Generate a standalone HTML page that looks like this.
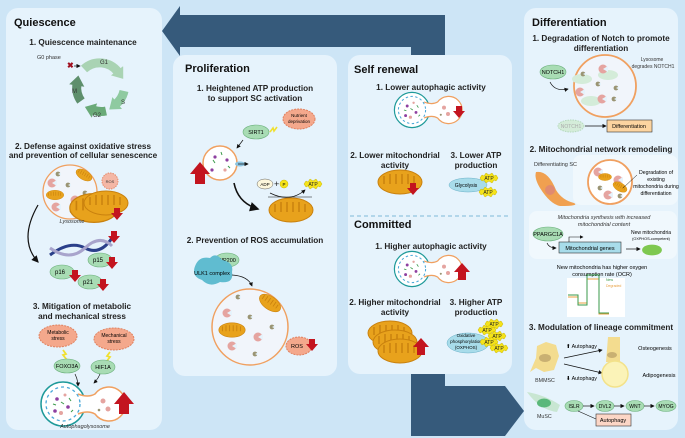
<!DOCTYPE html>
<html><head><meta charset="utf-8"><style>
html,body{margin:0;padding:0;background:#cde5f6;}
svg{display:block;font-family:"Liberation Sans",sans-serif;}
.t{font-weight:bold;font-size:11px;fill:#111}
.h{font-weight:bold;font-size:8.2px;fill:#222}
.s{font-size:5.5px;fill:#333}
.i{font-style:italic;font-size:5.5px;fill:#333}
</style></head><body>
<svg width="685" height="438" viewBox="0 0 685 438" xmlns="http://www.w3.org/2000/svg">
<defs>
<marker id="ah" markerWidth="6" markerHeight="6" refX="5" refY="3" orient="auto"><path d="M0,0 L6,3 L0,6z" fill="#111"/></marker>
<marker id="g1" viewBox="0 0 2 3" markerWidth="1.4" markerHeight="1.7" refX="0.3" refY="1.5" orient="auto"><path d="M0,0 L2,1.5 L0,3z" fill="#a9d3b3"/></marker>
<marker id="g2" viewBox="0 0 2 3" markerWidth="1.4" markerHeight="1.7" refX="0.3" refY="1.5" orient="auto"><path d="M0,0 L2,1.5 L0,3z" fill="#8fcaa0"/></marker>
<marker id="g3" viewBox="0 0 2 3" markerWidth="1.4" markerHeight="1.7" refX="0.3" refY="1.5" orient="auto"><path d="M0,0 L2,1.5 L0,3z" fill="#6aaa78"/></marker>
<marker id="g4" viewBox="0 0 2 3" markerWidth="1.4" markerHeight="1.7" refX="0.3" refY="1.5" orient="auto"><path d="M0,0 L2,1.5 L0,3z" fill="#5e8f6c"/></marker>
<g id="mito"><ellipse cx="0" cy="0" rx="22" ry="12" fill="#e8a21c" stroke="#c9810e" stroke-width="1"/><path d="M-16,-6 v8 M-10,-8 v10 M-4,-8 v10 M2,-8 v10 M8,-8 v10 M14,-6 v8" stroke="#c9810e" stroke-width="1.5"/></g>
<g id="dn"><path d="M-3,-9 h6 v5 h3 l-6,7 l-6,-7 h3z" fill="#c3141f"/></g>
<g id="up"><path d="M-4,9 h8 v-8 h4 l-8,-9 l-8,9 h4z" fill="#c3141f"/></g>
<g id="bigup"><path d="M-5,12 h10 v-10 h5 l-10,-12 l-10,12 h5z" fill="#c3141f"/></g>
<g id="pac"><circle r="4.5" fill="#e5a4a0"/><path d="M0,0 L5,-3 L5,3z" fill="#e6f3fc"/></g>
<g id="dot"><circle r="2.4" fill="#9a9473"/><path d="M0,0 L3,-1.5 L3,1.5z" fill="#e6f3fc"/></g>
<g id="atp"><path d="M-9,0 l2,-3 l2,1 l2,-3 l3,2 l3,-2 l2,3 l2,-1 l2,3 l-2,3 l-2,-1 l-2,3 l-3,-2 l-3,2 l-2,-3 l-2,1z" fill="#f5e31a" stroke="#c8b400" stroke-width="0.5"/><text x="0" y="2" font-size="5" text-anchor="middle" fill="#222">ATP</text></g>
<g id="auto"><circle cx="0" cy="0" r="22" fill="#fff" stroke="#1f9a9a" stroke-width="1.5"/><path d="M15,-10 Q25,-6 32,-10 A17 17 0 1 1 32,10 Q25,6 15,10" fill="#fff" stroke="#f0a060" stroke-width="1.5"/><circle cx="0" cy="0" r="17" fill="none" stroke="#4aa8d8" stroke-width="1.3" stroke-dasharray="3 3"/><circle cx="-6" cy="-5" r="1.8" fill="#8e3fa0"/><circle cx="5" cy="3" r="1.8" fill="#8e3fa0"/><circle cx="-8" cy="7" r="1.8" fill="#8e3fa0"/><circle cx="2" cy="-9" r="1.5" fill="#e5a4a0"/><circle cx="-2" cy="9" r="2" fill="#e5a4a0"/><path d="M-2,-2 l3,2 M6,-6 l2,3 M-10,0 l3,1 M8,8 l2,-2" stroke="#3a9a4a" stroke-width="1"/><circle cx="40" cy="-3" r="2.5" fill="#e5a4a0"/><circle cx="45" cy="5" r="2.5" fill="#e5a4a0"/><circle cx="36" cy="6" r="1.3" fill="#9a9473"/></g>
</defs>

<polygon points="162,31 180,6 180,15 445,15 445,62 411,62 411,47 180,47 180,56" fill="#365a7b"/>
<polygon points="411,370 445,370 445,386 505,386 524,411 505,436 411,436" fill="#365a7b"/>

<rect x="6" y="8" width="156" height="422" rx="12" fill="#e6f3fc"/>
<rect x="173" y="55" width="164" height="321" rx="12" fill="#e6f3fc"/>
<rect x="348" y="55" width="164" height="319" rx="12" fill="#e6f3fc"/>
<rect x="524" y="8" width="154" height="422" rx="12" fill="#e6f3fc"/>
<line x1="350" y1="216" x2="510" y2="216" stroke="#7fb8d8" stroke-dasharray="4 3"/>

<!-- Quiescence -->
<text x="14" y="26" class="t">Quiescence</text>
<text x="83" y="45" class="h" text-anchor="middle">1. Quiescence maintenance</text>
<text x="37" y="59" class="s" font-size="6">G0 phase</text>
<text x="67" y="68" font-size="8" fill="#a01020" font-weight="bold">✖</text>
<line x1="74" y1="66" x2="80" y2="66" stroke="#111" stroke-width="0.7" marker-end="url(#ah)"/>
<path d="M84,69 A23 23 0 0 1 118,72" stroke="#a9d3b3" stroke-width="9" fill="none" marker-end="url(#g1)"/>
<path d="M124,91 A23 23 0 0 1 116,104" stroke="#8fcaa0" stroke-width="9" fill="none" marker-end="url(#g2)"/>
<path d="M106,111 A23 23 0 0 1 93,110" stroke="#6aaa78" stroke-width="9" fill="none" marker-end="url(#g3)"/>
<path d="M81,101 A23 23 0 0 1 77,84" stroke="#5e8f6c" stroke-width="9" fill="none" marker-end="url(#g4)"/>
<text x="104" y="64" font-size="6" text-anchor="middle" fill="#333">G1</text>
<text x="121" y="104" font-size="6" fill="#333">S</text>
<text x="93" y="117" font-size="6" fill="#333">G2</text>
<text x="72" y="93" font-size="6" fill="#333">M</text>

<text x="83" y="149" class="h" text-anchor="middle">2. Defense against oxidative stress</text>
<text x="83" y="158" class="h" text-anchor="middle">and prevention of cellular senescence</text>
<circle cx="70" cy="192" r="27" fill="#f1f5fb" stroke="#f0a060" stroke-width="1.3"/>
<use href="#pac" x="52" y="183"/><use href="#pac" x="56" y="207"/><use href="#pac" x="75" y="200"/>
<use href="#dot" x="58" y="174"/><use href="#dot" x="68" y="185"/><use href="#dot" x="85" y="193"/><use href="#dot" x="72" y="211"/>
<g transform="translate(84,175) rotate(30) scale(0.4)"><use href="#mito"/></g>
<g transform="translate(55,195) scale(0.4)"><use href="#mito"/></g>
<circle cx="110" cy="181" r="8" fill="#f4b7a5" stroke="#e58a6a" stroke-dasharray="1.5 1"/>
<text x="110" y="183" font-size="4" text-anchor="middle" fill="#333">ROS</text>
<g transform="translate(94,208) scale(1.1,1.2)"><use href="#mito"/></g>
<g transform="translate(106,203) scale(1)"><use href="#mito"/></g>
<use href="#dn" x="117" y="217"/>
<text x="72" y="223" class="i" text-anchor="middle" font-size="5">Lysosome</text>
<path d="M38,205 Q18,240 38,262" stroke="#111" stroke-width="1.2" fill="none" marker-end="url(#ah)"/>
<path d="M50,255 Q70,240 85,248 Q100,256 112,238" stroke="#2a3f8a" stroke-width="3" fill="none"/>
<path d="M50,248 Q70,262 85,248 Q100,234 112,246" stroke="#a8a4cc" stroke-width="3" fill="none"/>
<use href="#dn" x="114" y="240"/>
<ellipse cx="100" cy="260" rx="12" ry="7" fill="#a8dcb4" stroke="#6bb07c" stroke-width="0.6"/><text x="98" y="262" font-size="6" text-anchor="middle">p15</text>
<ellipse cx="62" cy="272" rx="12" ry="7" fill="#a8dcb4" stroke="#6bb07c" stroke-width="0.6"/><text x="60" y="274" font-size="6" text-anchor="middle">p16</text>
<ellipse cx="90" cy="282" rx="12" ry="7" fill="#a8dcb4" stroke="#6bb07c" stroke-width="0.6"/><text x="88" y="284" font-size="6" text-anchor="middle">p21</text>
<use href="#dn" x="112" y="266"/><use href="#dn" x="75" y="279"/><use href="#dn" x="103" y="288"/>

<text x="82" y="309" class="h" text-anchor="middle">3. Mitigation of metabolic</text>
<text x="82" y="319" class="h" text-anchor="middle">and mechanical stress</text>
<ellipse cx="58" cy="336" rx="19" ry="11" fill="#f4a88c" stroke="#e0805e" stroke-dasharray="2 1"/>
<text x="58" y="334" font-size="5" text-anchor="middle">Metabolic</text><text x="58" y="340" font-size="5" text-anchor="middle">stress</text>
<ellipse cx="114" cy="339" rx="20" ry="11" fill="#f4a88c" stroke="#e0805e" stroke-dasharray="2 1"/>
<text x="114" y="337" font-size="5" text-anchor="middle">Mechanical</text><text x="114" y="343" font-size="5" text-anchor="middle">stress</text>
<path d="M63,350 l3,4 l-3,1 l4,5" stroke="#f0e030" stroke-width="1.8" fill="none"/>
<path d="M110,352 l-3,4 l3,1 l-4,5" stroke="#f0e030" stroke-width="1.8" fill="none"/>
<ellipse cx="67" cy="366" rx="13" ry="7" fill="#a8dcb4" stroke="#6bb07c" stroke-width="0.6"/><text x="67" y="368" font-size="5.5" text-anchor="middle">FOXO3A</text>
<ellipse cx="103" cy="367" rx="12" ry="7" fill="#a8dcb4" stroke="#6bb07c" stroke-width="0.6"/><text x="103" y="369" font-size="5.5" text-anchor="middle">HIF1A</text>
<path d="M75,374 q3,6 3,12" stroke="#111" stroke-width="0.7" fill="none" marker-end="url(#ah)"/>
<path d="M100,374 q-2,5 -6,9" stroke="#111" stroke-width="0.7" fill="none" marker-end="url(#ah)"/>
<use href="#auto" x="63" y="404"/>
<use href="#bigup" x="124" y="402"/>
<text x="85" y="428" class="i" text-anchor="middle" font-size="4.5">Autophagolysosome</text>

<!-- Proliferation -->
<text x="185" y="72" class="t">Proliferation</text>
<text x="255" y="91" class="h" text-anchor="middle">1. Heightened ATP production</text>
<text x="255" y="101" class="h" text-anchor="middle">to support SC activation</text>
<ellipse cx="299" cy="119" rx="16" ry="10" fill="#f4a88c" stroke="#e0805e" stroke-dasharray="2 1"/>
<text x="299" y="117" font-size="4.5" text-anchor="middle">Nutrient</text><text x="299" y="123" font-size="4.5" text-anchor="middle">deprivation</text>
<ellipse cx="256" cy="132" rx="13" ry="7" fill="#a8dcb4" stroke="#6bb07c" stroke-width="0.6"/><text x="256" y="134" font-size="5.5" text-anchor="middle">SIRT1</text>
<path d="M270,132 l3,-4 l1,3 l3,-4" stroke="#f0e030" stroke-width="1.6" fill="none"/>
<line x1="243" y1="140" x2="237" y2="148" stroke="#111" stroke-width="0.7" marker-end="url(#ah)"/>
<circle cx="220" cy="163" r="17" fill="#fff" stroke="#f0a060" stroke-width="1.5"/>
<circle cx="215" cy="157" r="1.6" fill="#8e3fa0"/><circle cx="227" cy="160" r="1.6" fill="#8e3fa0"/><circle cx="212" cy="170" r="1.6" fill="#8e3fa0"/><circle cx="225" cy="170" r="1.6" fill="#e5a4a0"/>
<path d="M213,160 l2,3 M221,152 l1,3 M228,166 l2,2" stroke="#3a9a4a" stroke-width="1"/>
<ellipse cx="240" cy="164" rx="5" ry="2.5" fill="#8cc4e0"/>
<line x1="238" y1="164" x2="248" y2="164" stroke="#111" stroke-width="0.7" marker-end="url(#ah)"/>
<use href="#bigup" x="200" y="172"/>
<path d="M234,183 Q238,203 258,209" stroke="#111" stroke-width="1.6" fill="none" marker-end="url(#ah)"/>
<ellipse cx="265" cy="184" rx="8" ry="5" fill="#fdf7dc" stroke="#666" stroke-width="0.5"/><text x="265" y="186" font-size="4.5" text-anchor="middle">ADP</text>
<text x="274" y="187" font-size="9" fill="#222">+</text>
<circle cx="284" cy="184" r="4" fill="#f5e31a" stroke="#c8b400" stroke-width="0.5"/><text x="284" y="186" font-size="4.5" text-anchor="middle">P</text>
<use href="#atp" x="313" y="184"/>
<path d="M270,193 Q290,203 305,190" stroke="#111" stroke-width="0.7" fill="none" marker-end="url(#ah)"/>
<line x1="268" y1="197" x2="312" y2="197" stroke="#111" stroke-width="0.6"/>
<use href="#mito" x="291" y="210"/>

<text x="255" y="243" class="h" text-anchor="middle">2. Prevention of ROS accumulation</text>
<ellipse cx="227" cy="260" rx="12" ry="7" fill="#a8dcb4" stroke="#6bb07c" stroke-width="0.6"/><text x="227" y="262" font-size="5.5" text-anchor="middle">FIP200</text>
<path d="M196,264 q4,-8 14,-6 q6,-6 12,2 q12,2 10,12 q2,12 -12,10 q-10,6 -18,-2 q-12,-4 -6,-16z" fill="#60bcd0"/>
<text x="212" y="275" font-size="5.5" text-anchor="middle">ULK1 complex</text>
<path d="M232,275 Q248,276 252,286" stroke="#111" stroke-width="0.7" fill="none" marker-end="url(#ah)"/>
<circle cx="250" cy="327" r="38" fill="#f1f5fb" stroke="#f0a060" stroke-width="1.5"/>
<use href="#pac" x="227" y="313"/><use href="#pac" x="258" y="337"/><use href="#pac" x="232" y="346"/>
<use href="#dot" x="238" y="297"/><use href="#dot" x="250" y="317"/><use href="#dot" x="272" y="327"/><use href="#dot" x="255" y="354"/>
<g transform="translate(270,303) rotate(35) scale(0.55)"><use href="#mito"/></g>
<g transform="translate(232,330) scale(0.6)"><use href="#mito"/></g>
<ellipse cx="299" cy="346" rx="13" ry="9" fill="#f4a88c" stroke="#e0805e" stroke-dasharray="2 1"/>
<text x="297" y="348" font-size="5.5" text-anchor="middle">ROS</text>
<use href="#dn" x="312" y="348"/>

<!-- Self renewal -->
<text x="354" y="73" class="t">Self renewal</text>
<text x="431" y="90" class="h" text-anchor="middle">1. Lower autophagic activity</text>
<g transform="translate(412,110) scale(0.8)"><use href="#auto"/></g>
<use href="#dn" x="459" y="115"/>
<text x="395" y="158" class="h" text-anchor="middle">2. Lower mitochondrial</text>
<text x="395" y="168" class="h" text-anchor="middle">activity</text>
<text x="476" y="158" class="h" text-anchor="middle">3. Lower ATP</text>
<text x="476" y="168" class="h" text-anchor="middle">production</text>
<use href="#mito" x="400" y="182"/>
<use href="#dn" x="413" y="192"/>
<ellipse cx="468" cy="185" rx="19" ry="7" fill="#a8dcea" stroke="#6ab0c8" stroke-width="0.5"/><text x="466" y="187" font-size="5" text-anchor="middle">Glycolysis</text>
<use href="#atp" x="489" y="178"/><use href="#atp" x="488" y="192"/>

<!-- Committed -->
<text x="354" y="228" class="t">Committed</text>
<text x="431" y="249" class="h" text-anchor="middle">1. Higher autophagic activity</text>
<g transform="translate(412,269) scale(0.8)"><use href="#auto"/></g>
<use href="#up" x="462" y="271"/>
<text x="395" y="305" class="h" text-anchor="middle">2. Higher mitochondrial</text>
<text x="395" y="315" class="h" text-anchor="middle">activity</text>
<text x="476" y="305" class="h" text-anchor="middle">3. Higher ATP</text>
<text x="476" y="315" class="h" text-anchor="middle">production</text>
<use href="#mito" x="390" y="333"/><use href="#mito" x="395" y="342"/><use href="#mito" x="400" y="351"/>
<use href="#up" x="421" y="346"/>
<ellipse cx="468" cy="343" rx="21" ry="10" fill="#a8dcea" stroke="#6ab0c8" stroke-width="0.5"/>
<text x="466" y="337" font-size="4.5" text-anchor="middle">Oxidative</text><text x="466" y="343" font-size="4.5" text-anchor="middle">phosphorylation</text><text x="466" y="349" font-size="4.5" text-anchor="middle">(OXPHOS)</text>
<use href="#atp" x="494" y="324"/><use href="#atp" x="487" y="330"/><use href="#atp" x="497" y="336"/><use href="#atp" x="489" y="342"/><use href="#atp" x="499" y="348"/>

<!-- Differentiation -->
<text x="532" y="26" class="t">Differentiation</text>
<text x="601" y="41" class="h" text-anchor="middle">1. Degradation of Notch to promote</text>
<text x="601" y="51" class="h" text-anchor="middle">differentiation</text>
<text x="652" y="61" font-size="5" text-anchor="middle" fill="#333">Lysosome</text>
<text x="653" y="68" font-size="5" text-anchor="middle" fill="#333">degrades NOTCH1</text>
<ellipse cx="553" cy="72" rx="13" ry="7" fill="#a8dcb4" stroke="#6bb07c" stroke-width="0.6"/><text x="553" y="74" font-size="5.5" text-anchor="middle">NOTCH1</text>
<path d="M550,82 Q555,92 568,89" stroke="#111" stroke-width="0.7" fill="none" marker-end="url(#ah)"/>
<circle cx="605" cy="86" r="31" fill="#f1f5fb" stroke="#f0a060" stroke-width="1.8"/>
<ellipse cx="582" cy="79" rx="10" ry="5" fill="#d4ecd9"/><ellipse cx="608" cy="75" rx="10" ry="5" fill="#d4ecd9"/><ellipse cx="591" cy="101" rx="10" ry="5" fill="#d4ecd9"/>
<use href="#pac" x="603" y="69"/><use href="#pac" x="580" y="92"/><use href="#pac" x="602" y="99"/>
<use href="#dot" x="583" y="74"/><use href="#dot" x="598" y="84"/><use href="#dot" x="616" y="88"/><use href="#dot" x="614" y="99"/>
<ellipse cx="571" cy="126" rx="13" ry="6" fill="#d4ecd9" stroke="#b5d9bd" stroke-dasharray="1.5 1"/><text x="571" y="128" font-size="5" text-anchor="middle" fill="#aaa">NOTCH1</text>
<line x1="585" y1="126" x2="606" y2="126" stroke="#111" stroke-width="0.7" marker-end="url(#ah)"/>
<rect x="607" y="120" width="45" height="12" fill="#fcd4a0" stroke="#333" stroke-width="0.6"/><text x="629" y="128" font-size="5.5" text-anchor="middle">Differentiation</text>
<text x="601" y="152" class="h" text-anchor="middle">2. Mitochondrial network remodeling</text>
<rect x="573" y="155" width="105" height="50" rx="8" fill="#f0f8fd"/>
<text x="534" y="166" font-size="5.5" fill="#333">Differentiating SC</text>
<path d="M536,172 Q548,170 556,190 Q562,200 574,203 Q580,206 560,206 Q550,204 540,188 Q534,178 536,172z" fill="#f0a050"/>
<circle cx="550" cy="190" r="5" fill="#e08a70"/>
<circle cx="610" cy="182" r="22" fill="#fff" stroke="#f0a060" stroke-width="1.8"/>
<use href="#pac" x="598" y="172"/><use href="#pac" x="618" y="180"/><use href="#pac" x="608" y="195"/>
<use href="#dot" x="600" y="188"/><use href="#dot" x="620" y="196"/>
<g transform="translate(605,177) scale(0.3)"><use href="#mito"/></g><g transform="translate(620,187) rotate(30) scale(0.35)"><use href="#mito"/></g>
<line x1="623" y1="188" x2="637" y2="175" stroke="#111" stroke-width="0.5"/>
<text x="656" y="174" font-size="5.2" text-anchor="middle">Degradation of</text>
<text x="656" y="181" font-size="5.2" text-anchor="middle">existing</text>
<text x="656" y="188" font-size="5.2" text-anchor="middle">mitochondria during</text>
<text x="656" y="195" font-size="5.2" text-anchor="middle">differentiation</text>
<rect x="529" y="211" width="148" height="48" rx="8" fill="#f0f8fd"/>
<text x="604" y="219" class="i" text-anchor="middle">Mitochondria synthesis with increased</text>
<text x="604" y="226" class="i" text-anchor="middle">mitochondrial content</text>
<ellipse cx="548" cy="234" rx="15" ry="7" fill="#a8dcb4" stroke="#6bb07c" stroke-width="0.6"/><text x="548" y="236" font-size="5.5" text-anchor="middle">PPARGC1A</text>
<path d="M547,243 q2,5 9,5" stroke="#111" stroke-width="0.7" fill="none" marker-end="url(#ah)"/>
<rect x="559" y="242" width="62" height="11" fill="#a8dcea" stroke="#333" stroke-width="0.6"/><text x="590" y="250" font-size="5.5" text-anchor="middle">Mitochondrial genes</text>
<path d="M569,242 v-5 h14" stroke="#111" stroke-width="0.6" fill="none" marker-end="url(#ah)"/>
<line x1="626" y1="249" x2="640" y2="249" stroke="#111" stroke-width="0.7" marker-end="url(#ah)"/>
<text x="651" y="234" font-size="5" text-anchor="middle">New mitochondria</text>
<text x="651" y="240" font-size="3.8" text-anchor="middle">(OXPHOS-competent)</text>
<g transform="translate(652,250) scale(0.45)"><ellipse rx="22" ry="12" fill="#7ec850"/></g>
<text x="602" y="269" font-size="5.5" text-anchor="middle">New mitochondria has higher oxygen</text>
<text x="602" y="276" font-size="5.5" text-anchor="middle">consumption rate (OCR)</text>
<rect x="567" y="278" width="58" height="39" fill="#fff"/>
<path d="M568,297 h10 v6 h9 v-24 h12 v35 h10" stroke="#e8a040" stroke-width="1" fill="none"/>
<path d="M568,295 h10 v10 h9 v-30 h12 v38 h10" stroke="#3a9a4a" stroke-width="1" fill="none"/>
<text x="606" y="281" font-size="3.5" fill="#3a9a4a">New</text><text x="606" y="287" font-size="3.5" fill="#e8a040">Degraded</text>
<text x="601" y="330" class="h" text-anchor="middle">3. Modulation of lineage commitment</text>
<path d="M537,346 L546,342 L556,345 L559,356 L554,370 L544,372 L536,368 L530,372 L536,358z" fill="#f3dc8f"/>
<ellipse cx="545" cy="358" rx="6" ry="4" fill="#c9b072"/>
<text x="545" y="382" font-size="5.3" text-anchor="middle" fill="#333">BMMSC</text>
<text x="566" y="348" font-size="5.3">⬆ Autophagy</text>
<text x="566" y="380" font-size="5.3">⬇ Autophagy</text>
<line x1="564" y1="358" x2="602" y2="350" stroke="#111" stroke-width="0.7" marker-end="url(#ah)"/>
<line x1="564" y1="364" x2="602" y2="373" stroke="#111" stroke-width="0.7" marker-end="url(#ah)"/>
<path d="M608,337 h12 v25 h-14 z" fill="#f3dc8f"/><ellipse cx="612" cy="355" rx="5" ry="3" fill="#c9b072"/>
<circle cx="615" cy="374" r="13" fill="#fbf3b8" stroke="#f3e28a" stroke-width="1.5"/>
<text x="655" y="350" font-size="5.5" text-anchor="middle">Osteogenesis</text>
<text x="659" y="377" font-size="5.5" text-anchor="middle">Adipogenesis</text>
<path d="M527,392 Q545,395 560,405 L557,412 Q540,410 527,392z" fill="#c8e6d2"/>
<ellipse cx="544" cy="403" rx="7" ry="4.5" fill="#5ab87a"/>
<text x="537" y="418" font-size="5.3" fill="#333">MuSC</text>
<ellipse cx="574" cy="406" rx="9" ry="5.5" fill="#a8dcb4" stroke="#6bb07c" stroke-width="0.6"/><text x="574" y="408" font-size="5" text-anchor="middle">ISLR</text>
<ellipse cx="605" cy="406" rx="9" ry="5.5" fill="#a8dcb4" stroke="#6bb07c" stroke-width="0.6"/><text x="605" y="408" font-size="5" text-anchor="middle">DVL2</text>
<ellipse cx="635" cy="406" rx="9" ry="5.5" fill="#a8dcb4" stroke="#6bb07c" stroke-width="0.6"/><text x="635" y="408" font-size="5" text-anchor="middle">WNT</text>
<ellipse cx="666" cy="406" rx="10" ry="5.5" fill="#a8dcb4" stroke="#6bb07c" stroke-width="0.6"/><text x="666" y="408" font-size="5" text-anchor="middle">MYOG</text>
<line x1="583" y1="406" x2="594" y2="406" stroke="#111" stroke-width="0.7" marker-end="url(#ah)"/>
<line x1="614" y1="406" x2="624" y2="406" stroke="#111" stroke-width="0.7" marker-end="url(#ah)"/>
<line x1="644" y1="406" x2="654" y2="406" stroke="#111" stroke-width="0.7" marker-end="url(#ah)"/>
<line x1="578" y1="411" x2="596" y2="419" stroke="#111" stroke-width="0.6"/>
<rect x="596" y="414" width="35" height="12" fill="#fcd6c6" stroke="#333" stroke-width="0.6"/><text x="613" y="422" font-size="5.5" text-anchor="middle">Autophagy</text>
</svg>
</body></html>
